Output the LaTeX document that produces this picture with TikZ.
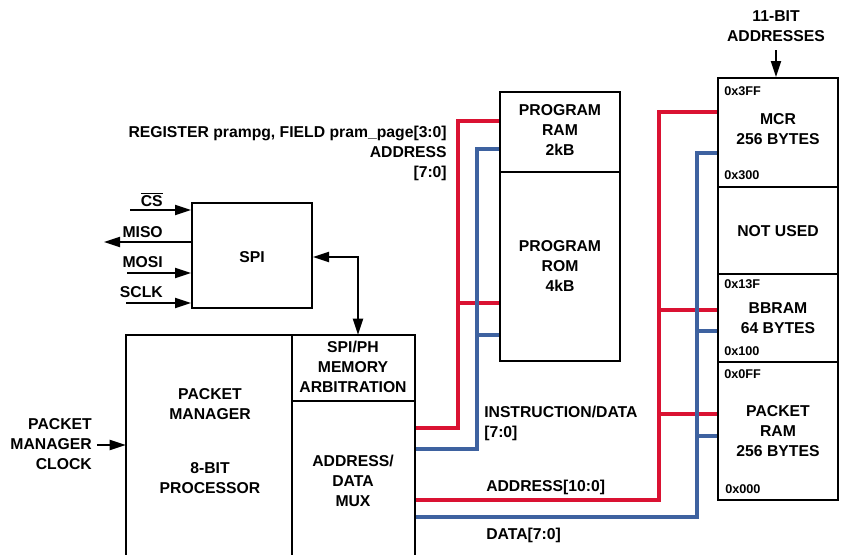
\documentclass[tikz,border=0pt]{standalone}
\usepackage{fontspec}
\setmainfont{LiberationSans}[Extension=.ttf,UprightFont=*-Regular,BoldFont=*-Bold,ItalicFont=*-Italic,BoldItalicFont=*-BoldItalic]
\usetikzlibrary{arrows.meta,fit}
\definecolor{adred}{RGB}{218,18,50}
\definecolor{adblue}{RGB}{62,98,160}
\begin{document}
\begin{tikzpicture}[x=0.75pt,y=-0.75pt,
  box/.style={draw=black,line width=1.5pt,inner sep=0pt},
  area/.style={inner sep=0pt},
  lbl/.style={font=\fontsize{11.8}{14.8}\selectfont\bfseries,align=center,inner sep=0pt},
  sm/.style={font=\fontsize{9.5}{11}\selectfont\bfseries,inner sep=0pt,anchor=base west},
  arr/.style={line width=1.5pt,-{Triangle[length=12pt,width=7.5pt]}},
  darr/.style={line width=1.5pt,{Triangle[length=12pt,width=7.5pt]}-{Triangle[length=12pt,width=7.5pt]}},
  rbus/.style={draw=adred,line width=2.3pt},
  bbus/.style={draw=adblue,line width=2.3pt}]
\useasboundingbox (0,0) rectangle (857,554);

% corner coordinates
\coordinate (spiA) at (192,203); \coordinate (spiB) at (312,308);
\coordinate (pramA) at (500,92); \coordinate (pramB) at (620,172);
\coordinate (promA) at (500,172); \coordinate (promB) at (620,361);
\coordinate (mcrA) at (718,78); \coordinate (mcrB) at (838,187);
\coordinate (nuA) at (718,187); \coordinate (nuB) at (838,274);
\coordinate (bbA) at (718,274); \coordinate (bbB) at (838,362);
\coordinate (prA) at (718,362); \coordinate (prB) at (838,500);
\coordinate (pmA) at (126,335); \coordinate (pmB) at (292,554);
\coordinate (arbA) at (292,335); \coordinate (arbB) at (415,401);
\coordinate (muxA) at (292,401); \coordinate (muxB) at (415,554);

% areas (not drawn)
\node[area,fit=(pmA)(pmB)] (pm) {};
\node[area,fit=(arbA)(arbB)] (arb) {};
\node[area,fit=(muxA)(muxB)] (mux) {};

% buses
\draw[rbus] (mux.east |- 0,428) -| (458,303) |- (pramA |- 0,121);
\draw[rbus] (458,303) -- (promA |- 0,303);
\draw[bbus] (mux.east |- 0,449) -| (477,335) |- (pramA |- 0,149);
\draw[bbus] (477,335) -- (promA |- 0,335);
\draw[rbus] (mux.east |- 0,500) -| (659,414) |- (mcrA |- 0,112);
\draw[rbus] (659,310) -- (bbA |- 0,310);
\draw[rbus] (659,414) -- (prA |- 0,414);
\draw[bbus] (mux.east |- 0,517) -| (697,436) |- (mcrA |- 0,153);
\draw[bbus] (697,331) -- (bbA |- 0,331);
\draw[bbus] (697,436) -- (prA |- 0,436);

% boxes
\node[box,fit=(spiA)(spiB)] (spi) {};
\node[box,fit=(pramA)(pramB)] (pram) {};
\node[box,fit=(promA)(promB)] (prom) {};
\node[box,fit=(mcrA)(mcrB)] (mcr) {};
\node[box,fit=(nuA)(nuB)] (nu) {};
\node[box,fit=(bbA)(bbB)] (bb) {};
\node[box,fit=(prA)(prB)] (pr) {};
\draw[line width=1.5pt] (126,560) -- (126,335) -- (415,335) -- (415,560);
\draw[line width=1.5pt] (292,335) -- (292,560);
\draw[line width=1.5pt] (292,401) -- (415,401);

% box texts
\node[lbl] at (252,257) {SPI};
\node[lbl] at (560,130) {PROGRAM\\RAM\\2kB};
\node[lbl] at (560,266) {PROGRAM\\ROM\\4kB};
\node[lbl] at (778,129) {MCR\\256 BYTES};
\node[lbl] at (778,231) {NOT USED};
\node[lbl] at (778,318) {BBRAM\\64 BYTES};
\node[lbl] at (778,431) {PACKET\\RAM\\256 BYTES};
\node[lbl] at (210,404) {PACKET\\MANAGER};
\node[lbl] at (210,478) {8-BIT\\PROCESSOR};
\node[lbl] at (353,367) {SPI/PH\\MEMORY\\ARBITRATION};
\node[lbl] at (353,481) {ADDRESS/\\DATA\\MUX};

% address labels
\node[sm] at (724,95) {0x3FF};
\node[sm] at (724,179) {0x300};
\node[sm] at (724,288) {0x13F};
\node[sm] at (724,355) {0x100};
\node[sm] at (724,378) {0x0FF};
\node[sm] at (725,493) {0x000};

% SPI signals
\node[lbl,anchor=base east] (cs) at (163,206) {$\overline{\hbox{CS}}$};
\node[lbl,anchor=base east] (miso) at (163,237) {MISO};
\node[lbl,anchor=base east] (mosi) at (163,267) {MOSI};
\node[lbl,anchor=base east] (sclk) at (163,297) {SCLK};
\coordinate (csS) at (130,210);
\coordinate (misoE) at (104,242);
\coordinate (mosiS) at (127,273);
\coordinate (sclkS) at (126,303);
\draw[arr] (csS) -- (spi.west |- csS);
\draw[arr] (spi.west |- misoE) -- (misoE);
\draw[arr] (mosiS) -- (spi.west |- mosiS);
\draw[arr] (sclkS) -- (spi.west |- sclkS);
\draw[darr] (spi.east |- 0,257) -| (arb.north -| 358,0);

% clock
\node[lbl,align=right,anchor=east] (clk) at (92,444) {PACKET\\MANAGER\\CLOCK};
\coordinate (clkS) at (97,445);
\draw[arr] (clkS) -- (pm.west |- clkS);

% 11-bit
\node[lbl] (elev) at (776,26) {11-BIT\\ADDRESSES};
\coordinate (elevS) at (776,50);
\draw[arr] (elevS) -- (mcr.north -| elevS);

% bus labels
\node[lbl,align=right,anchor=north east] at (447,126) {REGISTER prampg, FIELD pram\_page[3:0]\\ADDRESS\\{}[7:0]};
\node[lbl,align=left,anchor=north west] at (484,406) {INSTRUCTION/DATA\\{}[7:0]};
\node[lbl,anchor=base west] at (486,491) {ADDRESS[10:0]};
\node[lbl,anchor=base west] at (486,539) {DATA[7:0]};
\end{tikzpicture}
\end{document}
